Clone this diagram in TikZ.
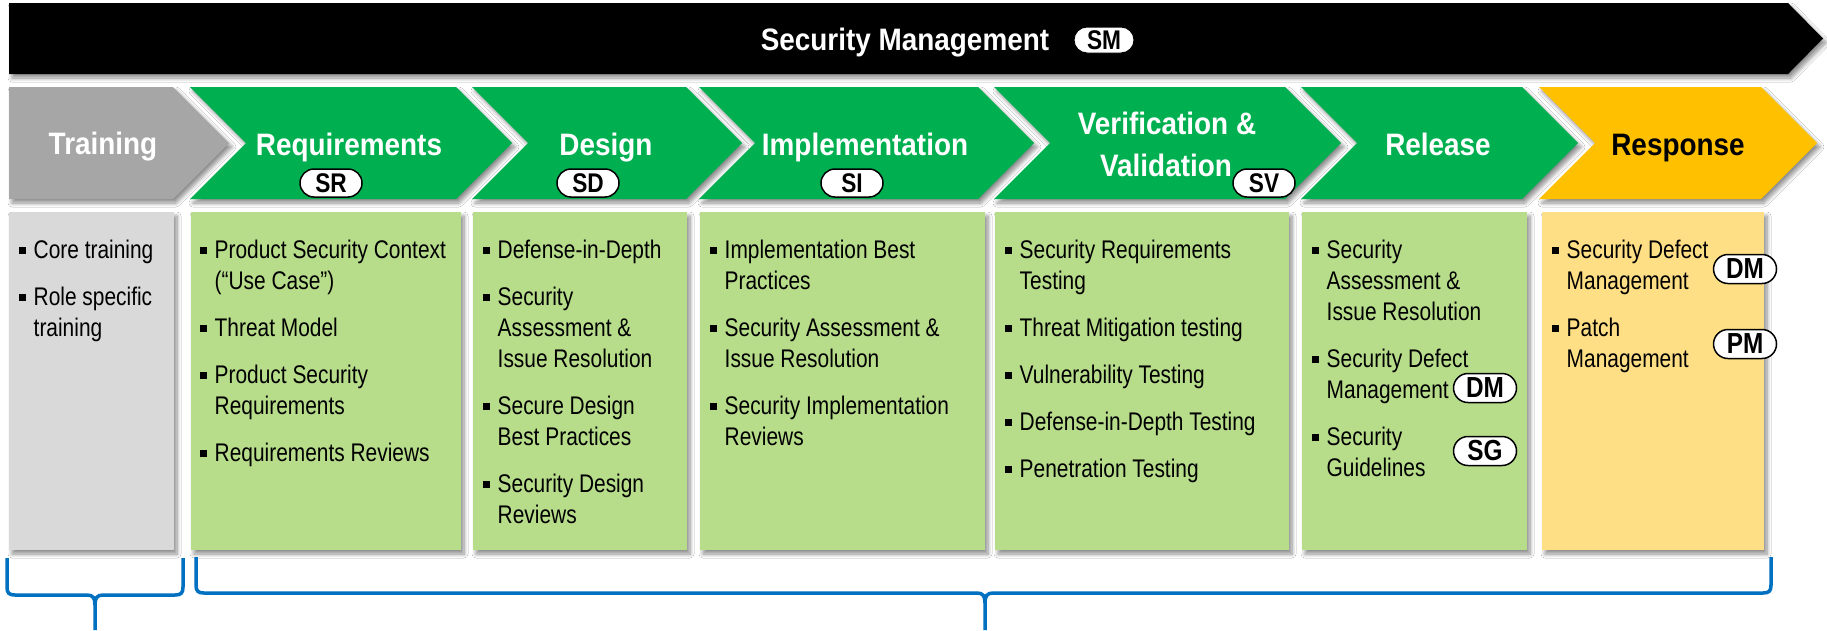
\documentclass[tikz,border=0pt]{standalone}
\usepackage{fontspec}
\setmainfont{Liberation Sans}
\newfontfamily\headfont[FakeStretch=0.9]{Liberation Sans}
\newfontfamily\badgefont[FakeStretch=0.84]{Liberation Sans}
\newfontfamily\bodyfam[FakeStretch=0.82]{Liberation Sans}
\usetikzlibrary{shapes.misc,shadows.blur}

\definecolor{phasegreen}{HTML}{00B050}
\definecolor{phasegray}{HTML}{A6A6A6}
\definecolor{phaseyellow}{HTML}{FFC000}
\definecolor{boxgreen}{HTML}{B7DD8B}
\definecolor{boxgray}{HTML}{D9D9D9}
\definecolor{boxyellow}{HTML}{FFDF86}
\definecolor{bracketblue}{HTML}{0070C0}

% square bullet and the indent of the item text
\newlength\indw
\setlength\indw{14.5pt}
\newlength\itemgap
\setlength\itemgap{16pt}
\newcommand\bul{\rule[4.5pt]{7pt}{7pt}}
\newcommand\bi[1]{\makebox[\indw][l]{\bul}#1}
\newcommand\ci[1]{\hspace*{\indw}#1}

\begin{document}
\begin{tikzpicture}[x=1pt,y=-1pt,
  softshadow/.style={blur shadow={shadow xshift=3pt,shadow yshift=-4pt,
      shadow blur radius=4pt,shadow blur steps=8,shadow opacity=45}},
  ttl/.style={font={\headfont\bfseries\fontsize{31}{42}\selectfont},
      text=white,inner sep=0pt,anchor=base},
  badge/.style={rounded rectangle,draw=black,line width=1.5pt,fill=white,
      minimum width=62pt,minimum height=28pt,inner sep=0pt,
      font={\badgefont\bfseries\fontsize{27}{27}\selectfont}},
  itembadge/.style={badge,minimum width=63pt,minimum height=29pt,
      font={\badgefont\bfseries\fontsize{29}{29}\selectfont}},
  itemtext/.style={font={\bodyfam\fontsize{25.5}{31.1}\selectfont},
      align=left,inner sep=0pt,anchor=north west},
  brace/.style={draw=bracketblue,line width=3.5pt}]

\fill[white] (0,0) rectangle (1827,630);
\useasboundingbox (0,0) rectangle (1827,630);

% Security Management banner
\fill[black,softshadow] (9,3) -- (1788,3) -- (1823,38.5) -- (1788,74) -- (9,74) -- cycle;
\node[ttl] (sm) at (905,50) {Security Management};
\node[badge,minimum width=60pt,minimum height=26pt,line width=1pt] (smb) at (1104,40) {SM};

% phase chevrons
\fill[phasegray,softshadow] (9,87) -- (173,87) -- (229,143) -- (173,199) -- (9,199) -- cycle;
\fill[phasegreen,softshadow] (190,87) -- (456,87) -- (512,143) -- (456,199) -- (190,199) -- (246,143) -- cycle;
\fill[phasegreen,softshadow] (472,87) -- (686,87) -- (742,143) -- (686,199) -- (472,199) -- (528,143) -- cycle;
\fill[phasegreen,softshadow] (699,87) -- (978,87) -- (1034,143) -- (978,199) -- (699,199) -- (755,143) -- cycle;
\fill[phasegreen,softshadow] (994,87) -- (1285,87) -- (1341,143) -- (1285,199) -- (994,199) -- (1050,143) -- cycle;
\fill[phasegreen,softshadow] (1301,87) -- (1522,87) -- (1578,143) -- (1522,199) -- (1301,199) -- (1357,143) -- cycle;
\fill[phaseyellow,softshadow] (1539,87) -- (1761,87) -- (1817,143) -- (1761,199) -- (1539,199) -- (1595,143) -- cycle;

% phase titles
\node[ttl] (training) at (103,154) {Training};
\node[ttl] (requirements) at (349,155) {Requirements};
\node[ttl] (design) at (606,155) {Design};
\node[ttl] (implementation) at (865,155) {Implementation};
\node[ttl] (verification) at (1167,134) {Verification \&};
\node[ttl] (validation) at (1166,176) {Validation};
\node[ttl] (release) at (1438,155) {Release};
\node[ttl,text=black] (response) at (1678,155) {Response};

% practice badges on the chevrons
\node[badge] (sr) at (331,183) {SR};
\node[badge] (sd) at (588,183) {SD};
\node[badge] (si) at (852,183) {SI};
\node[badge] (sv) at (1264,183) {SV};

% activity boxes
\fill[boxgray,softshadow] (9,212) rectangle (174,550);
\fill[boxgreen,softshadow] (191,212) rectangle (461,550);
\fill[boxgreen,softshadow] (473,212) rectangle (687,550);
\fill[boxgreen,softshadow] (700,212) rectangle (985,550);
\fill[boxgreen,softshadow] (995,212) rectangle (1289,550);
\fill[boxgreen,softshadow] (1302,212) rectangle (1527,550);
\fill[boxyellow,softshadow] (1542,212) rectangle (1764,550);

% activity lists
\node[itemtext] (trainlist) at (19,236.3) {\strut\bi{Core training}\\[\itemgap]
  \bi{Role specific}\\ \ci{training}};
\node[itemtext] (reqlist) at (200,236.3) {\strut\bi{Product Security Context}\\ \ci{(“Use Case”)}\\[\itemgap]
  \bi{Threat Model}\\[\itemgap]
  \bi{Product Security}\\ \ci{Requirements}\\[\itemgap]
  \bi{Requirements Reviews}};
\node[itemtext] (designlist) at (483,236.3) {\strut\bi{Defense-in-Depth}\\[\itemgap]
  \bi{Security}\\ \ci{Assessment \&}\\ \ci{Issue Resolution}\\[\itemgap]
  \bi{Secure Design}\\ \ci{Best Practices}\\[\itemgap]
  \bi{Security Design}\\ \ci{Reviews}};
\node[itemtext] (impllist) at (710,236.3) {\strut\bi{Implementation Best}\\ \ci{Practices}\\[\itemgap]
  \bi{Security Assessment \&}\\ \ci{Issue Resolution}\\[\itemgap]
  \bi{Security Implementation}\\ \ci{Reviews}};
\node[itemtext] (vvlist) at (1005,236.3) {\strut\bi{Security Requirements}\\ \ci{Testing}\\[\itemgap]
  \bi{Threat Mitigation testing}\\[\itemgap]
  \bi{Vulnerability Testing}\\[\itemgap]
  \bi{Defense-in-Depth Testing}\\[\itemgap]
  \bi{Penetration Testing}};
\node[itemtext] (rellist) at (1312,236.3) {\strut\bi{Security}\\ \ci{Assessment \&}\\ \ci{Issue Resolution}\\[\itemgap]
  \bi{Security Defect}\\ \ci{Management}\\[\itemgap]
  \bi{Security}\\ \ci{Guidelines}};
\node[itemtext] (resplist) at (1552,236.3) {\strut\bi{Security Defect}\\ \ci{Management}\\[\itemgap]
  \bi{Patch}\\ \ci{Management}};

% practice badges inside the boxes
\node[itembadge] (reldm) at (1485,388) {DM};
\node[itembadge] (relsg) at (1485,451) {SG};
\node[itembadge] (respdm) at (1745,269) {DM};
\node[itembadge] (resppm) at (1745,344) {PM};

% grouping brackets
\coordinate (lbA) at (7,558);
\coordinate (lbB) at (183,558);
\coordinate (lbS) at (95,630);
\coordinate (rbA) at (196,557);
\coordinate (rbB) at (1771,557);
\coordinate (rbS) at (985,630);
\draw[brace] (lbA) -- (7,587) .. controls (7,593) and (9,595) .. (15,595)
  -- (87,595) .. controls (93,595) and (95,598) .. (95,605) -- (lbS);
\draw[brace] (lbB) -- (183,587) .. controls (183,593) and (181,595) .. (175,595)
  -- (103,595) .. controls (97,595) and (95,598) .. (95,605);
\draw[brace] (rbA) -- (196,585) .. controls (196,591) and (198,593) .. (204,593)
  -- (977,593) .. controls (983,593) and (985,596) .. (985,603) -- (rbS);
\draw[brace] (rbB) -- (1771,585) .. controls (1771,591) and (1769,593) .. (1763,593)
  -- (993,593) .. controls (987,593) and (985,596) .. (985,603);
\end{tikzpicture}
\end{document}
